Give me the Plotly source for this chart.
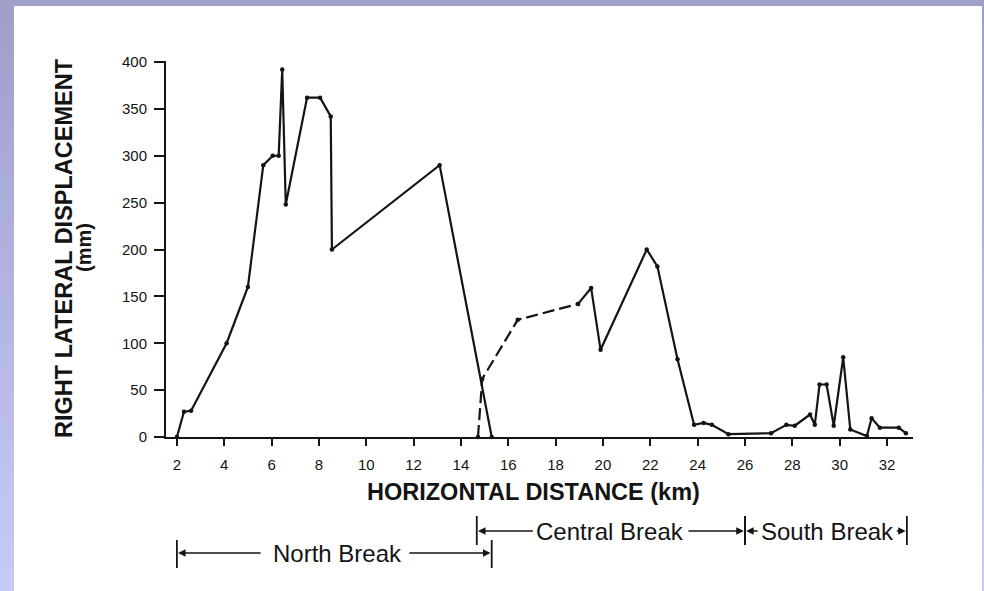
import plotly.graph_objects as go

# ---------------- data ----------------
north_km = [2.0, 2.3, 2.6, 4.1, 5.0, 5.65, 6.05, 6.3, 6.45, 6.6, 7.5, 8.05, 8.5, 8.55, 13.1, 15.3]
north_mm = [0, 27, 28, 100, 160, 290, 300, 300, 392, 248, 362, 362, 342, 200, 290, 0]

dash_km = [14.72, 14.9, 16.4, 18.95]
dash_mm = [0, 62, 125, 142]

south_km = [18.95, 19.5, 19.9, 21.85, 22.3, 23.15, 23.85, 24.25, 24.6, 25.3, 27.1, 27.75,
            28.1, 28.75, 28.95, 29.15, 29.45, 29.75, 30.15, 30.45, 31.15, 31.35, 31.7, 32.5, 32.8]
south_mm = [142, 159, 93, 200, 182, 83, 13, 15, 13, 3, 4, 13,
            12, 24, 13, 56, 56, 12, 85, 8, 1, 20, 10, 10, 4]

x_ticks = list(range(2, 33, 2))
y_ticks = list(range(0, 401, 50))

break_names = ["North Break", "Central Break", "South Break"]
break_start = [2.0, 14.67, 26.0]
break_end = [15.3, 26.0, 32.84]
break_text_x = [8.8, 20.3, 29.5]
break_gap_left = [5.6, 17.1, 26.6]
break_gap_right = [11.76, 23.55, 32.35]
break_row = [0, 1, 1]

# ---------------- layout geometry ----------------
W, H = 984, 591
L, R, T, B = 166, 71, 61, 154
PW, PH = W - L - R, H - T - B
X0 = 1.54
X1 = X0 + PW / 23.67
Y1 = PH / 0.9375


def px_x(px):
    return (px - L) / PW


def px_y(py):
    return (H - B - py) / PH


INK = "#141414"
FONT = "Liberation Sans, Arial, sans-serif"

fig = go.Figure()
line_style = dict(color=INK, width=2.2)
marker_style = dict(color=INK, size=4.5)

fig.add_trace(go.Scatter(x=north_km, y=north_mm, mode="lines+markers",
                         line=line_style, marker=marker_style, cliponaxis=False))
fig.add_trace(go.Scatter(x=dash_km, y=dash_mm, mode="lines+markers",
                         line=dict(color=INK, width=2.2, dash="12px,5px"),
                         marker=marker_style, cliponaxis=False))
fig.add_trace(go.Scatter(x=south_km, y=south_mm, mode="lines+markers",
                         line=line_style, marker=marker_style, cliponaxis=False))

shapes = []
# lavender background border with vertical gradient
top_c = (160, 159, 202)
bot_c = (201, 201, 247)
n = 24
for i in range(n):
    t = i / (n - 1)
    c = tuple(int(round(top_c[k] + (bot_c[k] - top_c[k]) * t)) for k in range(3))
    y_top = H * i / n
    y_bot = H * (i + 1) / n + 1
    shapes.append(dict(type="rect", xref="paper", yref="paper",
                       x0=px_x(0), x1=px_x(W), y0=px_y(y_bot), y1=px_y(y_top),
                       fillcolor="rgb(%d,%d,%d)" % c, line=dict(width=0), layer="below"))
# white panel
shapes.append(dict(type="rect", xref="paper", yref="paper",
                   x0=px_x(14), x1=px_x(982), y0=px_y(H + 2), y1=px_y(6),
                   fillcolor="white", line=dict(width=0), layer="below"))
# x-axis line extension to the left of the y axis
shapes.append(dict(type="line", xref="paper", yref="paper",
                   x0=px_x(155), x1=0, y0=0, y1=0, line=dict(color=INK, width=2)))

row_y = [553, 531]
row_bar = [(540, 568), (516, 545)]

annotations = []
for name, s, e, tx, gl, gr, row in zip(break_names, break_start, break_end,
                                        break_text_x, break_gap_left, break_gap_right, break_row):
    yc = px_y(row_y[row])
    b0, b1 = row_bar[row]
    for xb in (s, e):
        shapes.append(dict(type="line", xref="x", yref="paper", x0=xb, x1=xb,
                           y0=px_y(b0), y1=px_y(b1), line=dict(color=INK, width=1.8)))
    annotations.append(dict(text=name, x=tx, y=yc, xref="x", yref="paper",
                            showarrow=False, xanchor="center", yanchor="middle",
                            font=dict(family=FONT, size=24, color=INK)))
    annotations.append(dict(text="", x=s + 0.05, y=yc, xref="x", yref="paper",
                            ax=gl, ay=0, axref="x", showarrow=True,
                            arrowhead=2, arrowsize=1, arrowwidth=1.5, arrowcolor=INK))
    annotations.append(dict(text="", x=e - 0.05, y=yc, xref="x", yref="paper",
                            ax=gr, ay=0, axref="x", showarrow=True,
                            arrowhead=2, arrowsize=1, arrowwidth=1.5, arrowcolor=INK))

# axis titles
annotations.append(dict(text="<b>RIGHT LATERAL DISPLACEMENT</b>", x=px_x(64), y=px_y(248),
                        xref="paper", yref="paper", showarrow=False, textangle=-90,
                        xanchor="center", yanchor="middle",
                        font=dict(family=FONT, size=23.5, color=INK)))
annotations.append(dict(text="<b>(mm)</b>", x=px_x(84), y=px_y(248),
                        xref="paper", yref="paper", showarrow=False, textangle=-90,
                        xanchor="center", yanchor="middle",
                        font=dict(family=FONT, size=20, color=INK)))
annotations.append(dict(text="<b>HORIZONTAL DISTANCE (km)</b>", x=px_x(533), y=px_y(492),
                        xref="paper", yref="paper", showarrow=False,
                        xanchor="center", yanchor="middle",
                        font=dict(family=FONT, size=23.5, color=INK)))

fig.update_layout(
    width=W, height=H,
    margin=dict(l=L, r=R, t=T, b=B, pad=0),
    paper_bgcolor="rgb(180,179,225)",
    plot_bgcolor="white",
    showlegend=False,
    hovermode=False,
    shapes=shapes,
    annotations=annotations,
    xaxis=dict(range=[X0, X1], tickvals=x_ticks, ticks="outside", ticklen=7,
               tickwidth=1.5, tickcolor=INK, showline=True, linecolor=INK, linewidth=2,
               showgrid=False, zeroline=False, ticklabelstandoff=6,
               tickfont=dict(family=FONT, size=15, color=INK)),
    yaxis=dict(range=[0, Y1], tickvals=y_ticks, ticks="outside", ticklen=10,
               tickwidth=1.5, tickcolor=INK, showline=True, linecolor=INK, linewidth=2,
               showgrid=False, zeroline=False, ticklabelstandoff=4,
               tickfont=dict(family=FONT, size=15, color=INK)),
)

fig.write_html("out.html", config={"displayModeBar": False},
               post_script="document.body.style.margin='0';document.body.style.padding='0';")
